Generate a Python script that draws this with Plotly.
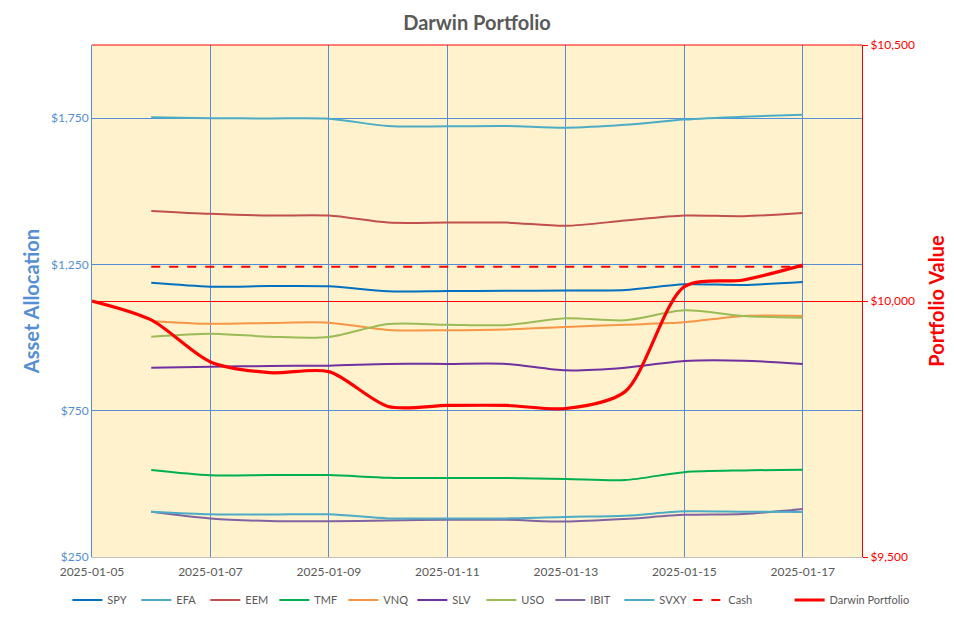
import plotly.graph_objects as go

dates_assets = ["2025-01-06", "2025-01-07", "2025-01-08", "2025-01-09", "2025-01-10", "2025-01-11",
                "2025-01-12", "2025-01-13", "2025-01-14", "2025-01-15", "2025-01-16", "2025-01-17"]
dates_portfolio = ["2025-01-05"] + dates_assets

spy = [1187, 1174, 1176, 1175, 1158, 1159, 1160, 1161, 1163, 1182, 1180, 1190]
efa = [1753, 1750, 1749, 1748, 1723, 1722, 1723, 1717, 1727, 1745, 1755, 1762]
eem = [1433, 1423, 1417, 1417, 1393, 1393, 1393, 1382, 1400, 1417, 1415, 1426]
tmf = [547, 529, 530, 530, 521, 520, 520, 517, 513, 540, 546, 548]
vnq = [1057, 1047, 1050, 1051, 1026, 1025, 1028, 1036, 1044, 1052, 1074, 1074]
slv = [897, 900, 903, 904, 910, 910, 910, 888, 897, 920, 921, 910]
uso = [1003, 1013, 1003, 1002, 1046, 1044, 1043, 1066, 1059, 1093, 1074, 1068]
ibit = [405, 382, 373, 372, 375, 377, 377, 371, 380, 394, 397, 414]
svxy = [405, 396, 395, 396, 382, 382, 382, 387, 391, 406, 405, 404]
cash = [1242] * 12
portfolio = [10000, 9963, 9881, 9860, 9862, 9794, 9796, 9796, 9790, 9823, 10028, 10041, 10070]

series = [
    ("SPY", spy, "#0070C0"),
    ("EFA", efa, "#4BACC6"),
    ("EEM", eem, "#C0504D"),
    ("TMF", tmf, "#00B050"),
    ("VNQ", vnq, "#F79646"),
    ("SLV", slv, "#7030A0"),
    ("USO", uso, "#9BBB59"),
    ("IBIT", ibit, "#8064A2"),
    ("SVXY", svxy, "#4BACC6"),
]

fig = go.Figure()
for name, vals, color in series:
    fig.add_trace(go.Scatter(x=dates_assets, y=vals, name=name, mode="lines", legend="legend",
                             line=dict(color=color, width=2, shape="spline", smoothing=0.8)))
fig.add_trace(go.Scatter(x=dates_assets, y=cash, name="Cash", mode="lines", legend="legend",
                         line=dict(color="#FF0000", width=2.2, dash="dash")))
fig.add_trace(go.Scatter(x=dates_portfolio, y=portfolio, name="Darwin Portfolio", mode="lines", yaxis="y2",
                         legend="legend2",
                         line=dict(color="#FF0000", width=3.2, shape="spline", smoothing=0.8)))

font_family = "Lato, 'Liberation Sans', sans-serif"
blue = "#558ED5"
legend_style = dict(orientation="h", yanchor="middle", y=-0.084, xanchor="left",
                    font=dict(size=11, color="#595959"), bgcolor="rgba(0,0,0,0)",
                    itemwidth=30, tracegroupgap=0)

fig.update_layout(
    width=954, height=617,
    margin=dict(l=92, r=92, t=45, b=60, autoexpand=False),
    paper_bgcolor="white",
    plot_bgcolor="#FFF2CC",
    font=dict(family=font_family, color="#595959", size=12),
    title=dict(text="<b>Darwin Portfolio</b>", x=0.5, xanchor="center", y=0.963, yanchor="middle",
               font=dict(size=20, color="#595959")),
    xaxis=dict(
        type="date",
        range=["2025-01-05", "2025-01-18"],
        tick0="2025-01-05", dtick=2 * 86400000,
        tickformat="%Y-%m-%d",
        showgrid=True, gridcolor=blue, gridwidth=1,
        showline=True, linecolor="#BFBFBF", linewidth=1,
        ticks="outside", ticklen=4, tickcolor="rgba(0,0,0,0)",
        tickfont=dict(size=12, color="#595959"),
        zeroline=False,
    ),
    yaxis=dict(
        range=[250, 2000],
        tickvals=[250, 750, 1250, 1750],
        tickformat="$,.0f",
        showgrid=True, gridcolor=blue, gridwidth=1,
        showline=True, linecolor=blue, linewidth=1,
        ticks="", tickfont=dict(size=12, color=blue),
        title=dict(text="<b>Asset Allocation</b>", font=dict(size=20, color=blue), standoff=6),
        zeroline=False,
    ),
    yaxis2=dict(
        overlaying="y", side="right",
        range=[9500, 10500],
        tickvals=[9500, 10000, 10500],
        tickformat="$,.0f",
        showgrid=True, gridcolor="#FF0000", gridwidth=1,
        showline=True, linecolor="#FF0000", linewidth=1,
        ticks="outside", ticklen=5, tickcolor="#FF0000",
        tickfont=dict(size=12, color="#FF0000"),
        title=dict(text="<b>Portfolio Value</b>", font=dict(size=20, color="#FF0000"), standoff=16),
        zeroline=False,
    ),
    legend=dict(x=-0.032, entrywidth=24, entrywidthmode="pixels", **legend_style),
    legend2=dict(x=0.906, **legend_style),
    shapes=[dict(type="line", xref="paper", yref="paper", x0=0, x1=1, y0=1, y1=1,
                 line=dict(color="#FF0000", width=1), layer="above")],
    showlegend=True,
)

fig.write_html("out.html")
